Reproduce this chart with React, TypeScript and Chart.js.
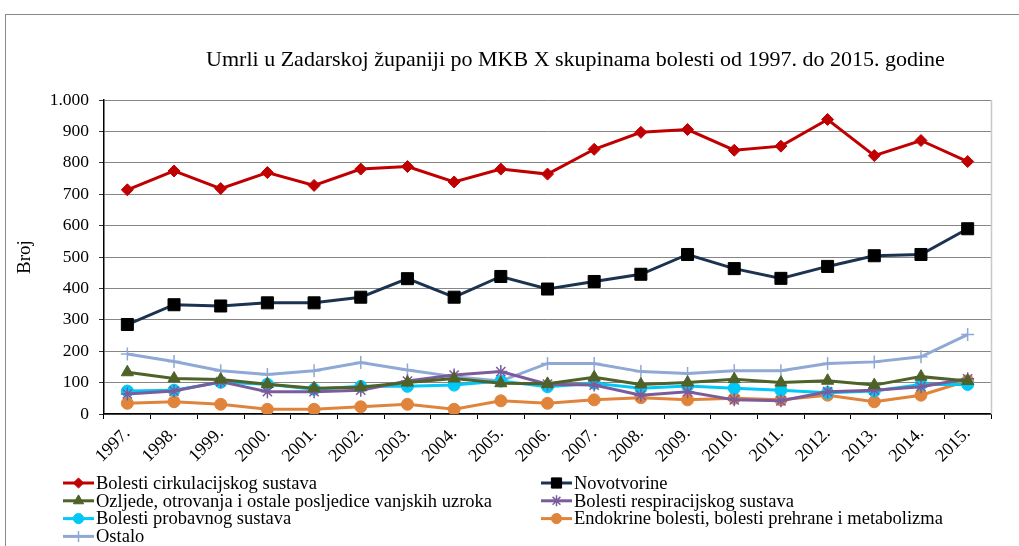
import React, { useEffect, useRef } from 'react';
import { Chart, registerables } from 'chart.js';
import { drawPoint } from 'chart.js/helpers';

Chart.register(...registerables);

const years = ['1997.', '1998.', '1999.', '2000.', '2001.', '2002.', '2003.', '2004.', '2005.', '2006.', '2007.', '2008.', '2009.', '2010.', '2011.', '2012.', '2013.', '2014.', '2015.'];
const cirkulacijski = [714, 774, 718, 769, 728, 780, 788, 739, 780, 764, 843, 897, 906, 840, 853, 938, 823, 871, 804];
const novotvorine = [285, 348, 344, 354, 354, 372, 431, 372, 438, 398, 422, 445, 508, 463, 432, 470, 504, 508, 590];
const ozljede = [133, 113, 110, 95, 82, 85, 100, 113, 98, 96, 117, 94, 100, 111, 100, 106, 92, 119, 105];
const respiracijski = [64, 73, 103, 71, 71, 76, 105, 124, 135, 95, 92, 60, 71, 45, 42, 71, 76, 87, 112];
const probavni = [73, 76, 101, 95, 79, 88, 88, 92, 105, 87, 98, 82, 89, 82, 76, 68, 73, 94, 94];
const endokrine = [34, 39, 31, 15, 15, 23, 31, 15, 42, 34, 45, 52, 45, 50, 45, 60, 39, 60, 106];
const ostalo = [191, 167, 138, 126, 138, 164, 140, 119, 105, 161, 161, 135, 129, 138, 138, 161, 166, 182, 253];

const seriesNames = [
  'Bolesti cirkulacijskog sustava',
  'Novotvorine',
  'Ozljede, otrovanja i ostale posljedice vanjskih uzroka',
  'Bolesti respiracijskog sustava',
  'Bolesti probavnog sustava',
  'Endokrine bolesti, bolesti prehrane i metabolizma',
  'Ostalo',
];
const titleText = 'Umrli u Zadarskoj županiji po MKB X skupinama bolesti od 1997. do 2015. godine';
const yTitle = 'Broj';

const FONT = "'Liberation Serif', 'Times New Roman', serif";

const titlePlugin = {
  id: 'customTitle',
  afterDraw(chart: any) {
    const { ctx, chartArea } = chart;
    ctx.save();
    ctx.font = `22px ${FONT}`;
    ctx.fillStyle = '#000';
    ctx.textAlign = 'center';
    ctx.textBaseline = 'middle';
    ctx.fillText(titleText, (chartArea.left + chartArea.right) / 2 + 28, 60);
    // right border of plot area
    ctx.strokeStyle = '#c8c8c8';
    ctx.lineWidth = 1.5;
    ctx.beginPath();
    ctx.moveTo(chartArea.right + 0.5, chartArea.top);
    ctx.lineTo(chartArea.right + 0.5, chartArea.bottom);
    ctx.stroke();
    ctx.restore();
  },
};

const legendPlugin = {
  id: 'customLegend',
  afterDraw(chart: any) {
    const { ctx, chartArea } = chart;
    ctx.save();
    ctx.textBaseline = 'middle';
    ctx.textAlign = 'left';
    chart.data.datasets.forEach((ds: any, i: number) => {
      const col = i % 2;
      const row = Math.floor(i / 2);
      const x0 = col === 0 ? 63 : 541;
      const y = chartArea.bottom + 69 + row * 17.8;
      ctx.strokeStyle = ds.borderColor;
      ctx.lineWidth = 3;
      ctx.beginPath();
      ctx.moveTo(x0, y);
      ctx.lineTo(x0 + 31, y);
      ctx.stroke();
      ctx.fillStyle = ds.pointBackgroundColor;
      ctx.strokeStyle = ds.pointBorderColor;
      ctx.lineWidth = ds.pointBorderWidth ?? 1;
      drawPoint(ctx, {
        pointStyle: ds.pointStyle,
        radius: ds.pointRadius * 0.85,
        borderWidth: ds.pointBorderWidth ?? 1,
        rotation: 0,
      } as any, x0 + 15.5, y);
      ctx.font = `18.5px ${FONT}`;
      ctx.fillStyle = '#000';
      ctx.fillText(ds.label, x0 + 33, y + 1);
    });
    ctx.restore();
  },
};

function ds(label: string, data: number[], line: string, fill: string, style: string, radius: number, bw = 1) {
  return {
    label,
    data,
    borderColor: line,
    backgroundColor: fill,
    pointBackgroundColor: fill,
    pointBorderColor: fill,
    pointStyle: style,
    pointRadius: radius,
    pointBorderWidth: bw,
    borderWidth: 3,
    tension: 0,
    fill: false,
  };
}

export default function App() {
  const ref = useRef<HTMLCanvasElement | null>(null);
  useEffect(() => {
    document.body.style.margin = '0';
    const canvas = ref.current!;
    const datasets = [
      ds(seriesNames[0], cirkulacijski, '#C00000', '#C00000', 'rectRot', 6),
      ds(seriesNames[1], novotvorine, '#1B3350', '#000000', 'rect', 8.5),
      ds(seriesNames[2], ozljede, '#4F6228', '#4F6228', 'triangle', 7),
      ds(seriesNames[3], respiracijski, '#7A5C9C', '#7A5C9C', 'star', 6.5, 1.5),
      ds(seriesNames[4], probavni, '#00C8F8', '#00C8F8', 'circle', 6),
      ds(seriesNames[5], endokrine, '#E0843C', '#E0843C', 'circle', 6),
      ds(seriesNames[6], ostalo, '#8FA9D4', '#8FA9D4', 'cross', 6.5, 1.5),
    ];
    const chart = new Chart(canvas, {
      type: 'line',
      data: { labels: years, datasets: datasets as any },
      options: {
        responsive: false,
        animation: false,
        layout: { padding: { left: 10, top: 100, right: 28, bottom: 72 } },
        plugins: {
          legend: { display: false },
          title: { display: false },
          tooltip: { enabled: false },
        },
        scales: {
          x: {
            offset: true,
            grid: {
              offset: true,
              drawOnChartArea: false,
              drawTicks: true,
              tickLength: 5,
              tickColor: '#000',
            },
            border: { color: '#000', width: 1.5 },
            ticks: {
              minRotation: 45,
              maxRotation: 45,
              autoSkip: false,
              color: '#000',
              font: { family: FONT, size: 18 },
              padding: 4,
            },
            afterFit: (scale: any) => { scale.height = 60; },
          },
          y: {
            min: 0,
            max: 1000,
            ticks: {
              stepSize: 100,
              color: '#000',
              font: { family: FONT, size: 17.5 },
              padding: 10,
              callback: (v: any) => (Number(v) >= 1000 ? Number(v).toLocaleString('de-DE') : String(v)),
            },
            grid: { color: '#868686', lineWidth: 1, tickLength: 5, tickColor: '#333' },
            border: { color: '#000', width: 1.5 },
            title: { display: true, text: yTitle, color: '#000', font: { family: FONT, size: 19 }, padding: { top: 4, bottom: 4 } },
            afterFit: (scale: any) => { scale.width = 94; },
          },
        },
      },
      plugins: [titlePlugin, legendPlugin],
    });
    return () => chart.destroy();
  }, []);
  return (
    <div style={{ position: 'relative', width: 1019, height: 546, background: '#fff' }}>
      <div style={{ position: 'absolute', left: 5, top: 14, right: -2, bottom: -2, borderTop: '1.5px solid #8a8a8a', borderLeft: '1.5px solid #8a8a8a' }} />
      <canvas ref={ref} width={1019} height={546} style={{ position: 'absolute', left: 0, top: 0 }} />
    </div>
  );
}
